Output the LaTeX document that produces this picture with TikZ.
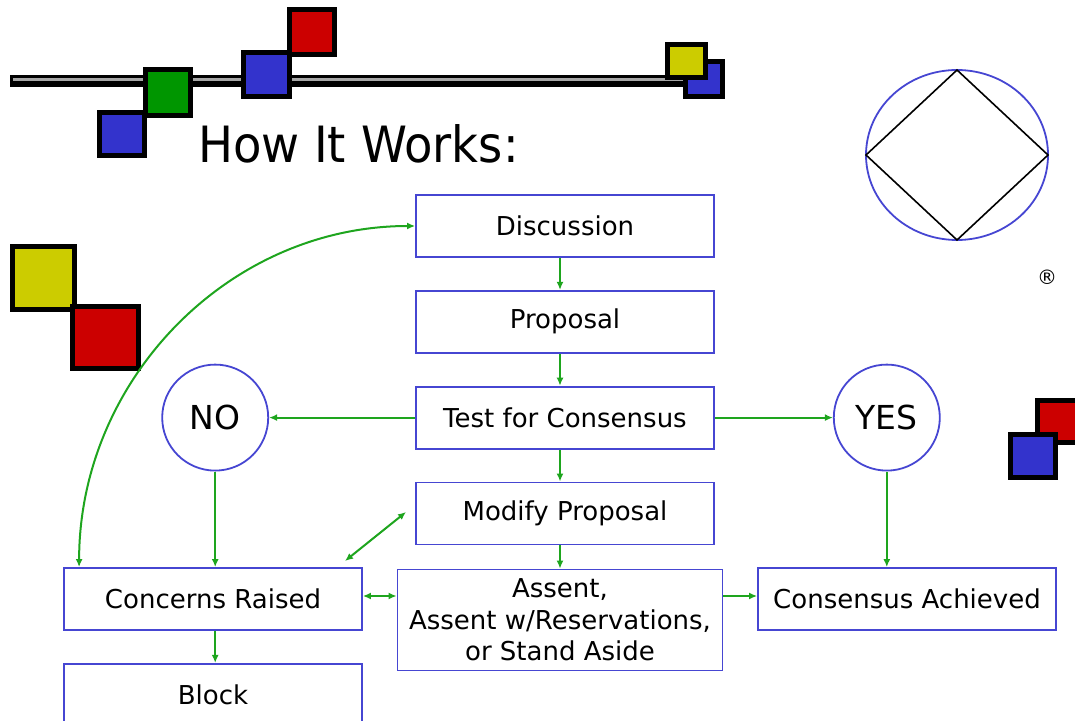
\documentclass[tikz,border=0pt]{standalone}
\usepackage{fontspec}
\setmainfont{DejaVu Sans}
\newfontfamily\titlefont{DejaVu Sans}[FakeStretch=0.93]
\usetikzlibrary{positioning,arrows.meta}
\definecolor{boxblue}{RGB}{70,70,210}
\definecolor{flowgreen}{RGB}{30,165,30}
\definecolor{tileblue}{RGB}{51,51,204}
\definecolor{tilegreen}{RGB}{0,150,0}
\definecolor{tilered}{RGB}{204,0,0}
\definecolor{tileyellow}{RGB}{204,204,0}

\begin{document}
\begin{tikzpicture}[x=0.5pt, y=-0.5pt,
        stage/.style={rectangle, draw=boxblue, line width=0.9pt, minimum width=149pt, minimum height=31pt, inner sep=0pt, font=\fontsize{13}{15.75}\selectfont},
        answer/.style={circle, draw=boxblue, line width=0.9pt, minimum size=53pt, inner sep=0pt, font=\fontsize{16.5}{18}\selectfont},
        flow/.style={draw=flowgreen, line width=1pt, -{Latex[length=4pt,width=3.5pt]}},
        flowboth/.style={flow, {Latex[length=4pt,width=3.5pt]}-{Latex[length=4pt,width=3.5pt]}},
        tile/.style={draw=black, line width=2.5pt},
        node distance=16pt and 73pt
    ]
    \useasboundingbox (0,0) rectangle (1075,721);

    % bar and tiles
    \draw[line width=6pt] (10,81) -- (700,81);
    \draw[line width=1.5pt, gray!70] (13,80) -- (697,80);
    \draw[tile, fill=tileblue]   (99.5,112.5) rectangle (144.5,155.5);
    \draw[tile, fill=tilegreen]  (145.5,69.5) rectangle (190.5,115.5);
    \draw[tile, fill=tileblue]   (243.5,52.5) rectangle (289.5,96.5);
    \draw[tile, fill=tilered]    (289.5,9.5) rectangle (334.5,54.5);
    \draw[tile, fill=tileblue]   (685.5,61.5) rectangle (722.5,96.5);
    \draw[tile, fill=tileyellow] (667.5,44.5) rectangle (705.5,77.5);
    \draw[tile, fill=tileyellow] (12.5,246.5) rectangle (74.5,309.5);
    \draw[tile, fill=tilered]    (72.5,306.5) rectangle (138.5,368.5);
    \draw[tile, fill=tilered]    (1037.5,400.5) rectangle (1085,442.5);
    \draw[tile, fill=tileblue]   (1010.5,434.5) rectangle (1055.5,477.5);

    % logo
    \draw[boxblue, line width=0.9pt] (957,155) ellipse [x radius=45.5pt, y radius=42.5pt];
    \draw[line width=0.8pt] (957,70) -- (1048,155) -- (957,240) -- (866,155) -- cycle;
    \node[font=\fontsize{10}{12}\selectfont] (reg) at (1047,277) {®};

    \node[font=\titlefont\fontsize{25}{30}\selectfont, anchor=base west] (title) at (191,163) {How It Works:};

    % flow chart
    \node[stage]  (disc)                       at (565,226) {Discussion};
    \node[stage]  (prop)     [below=of disc]   {Proposal};
    \node[stage]  (test)     [below=of prop]   {Test for Consensus};
    \node[stage]  (modify)   [below=of test]   {Modify Proposal};
    \node[answer] (no)       [left=73pt of test]  {NO};
    \node[answer] (yes)      [right=59pt of test] {YES};
    \node[stage, minimum width=162.5pt, minimum height=50.5pt, align=center]
                  (assent)                     at (560,620) {Assent,\\Assent w/Reservations,\\or Stand Aside};
    \node[stage]  (concerns)                   at (213,599) {Concerns Raised};
    \node[stage]  (block)    [below=of concerns] {Block};
    \node[stage]  (achieved)                   at (907,599) {Consensus Achieved};
    \coordinate (m1) at (345,561);
    \coordinate (m2) at (406,512);

    \draw[flow] (disc.south -| assent) -- (prop.north -| assent);
    \draw[flow] (prop.south -| assent) -- (test.north -| assent);
    \draw[flow] (test.south -| assent) -- (modify.north -| assent);
    \draw[flow] (modify.south -| assent) -- (assent.north);
    \draw[flow] (test) -- (no);
    \draw[flow] (test) -- (yes);
    \draw[flow] (no) -- (no |- concerns.north);
    \draw[flow] (yes) -- (yes |- achieved.north);
    \draw[flow] (concerns.south -| no) -- (block.north -| no);
    \draw[flowboth] ([yshift=1.5pt]concerns.east) -- ([yshift=1.5pt]concerns.east -| assent.west);
    \draw[flow] ([yshift=1.5pt]achieved.west -| assent.east) -- ([yshift=1.5pt]achieved.west);
    \draw[flowboth] (m1) -- (m2);
    \draw[flowboth] ([xshift=8pt]concerns.north west) to[out=90, in=180] (disc.west);
\end{tikzpicture}
\end{document}
